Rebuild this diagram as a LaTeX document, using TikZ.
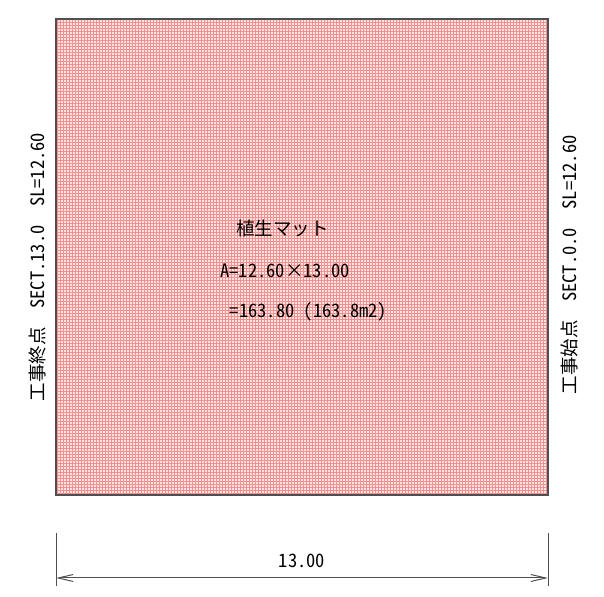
\documentclass[tikz,border=0pt]{standalone}
\usepackage{fontspec}
\setmainfont{Noto Sans CJK JP}
\newfontfamily\jp{Noto Sans CJK JP}
\newfontfamily\hw{Noto Sans CJK JP}[RawFeature=+hwid]
\usetikzlibrary{arrows.meta}
\definecolor{matbg}{HTML}{FFE4E4}
\definecolor{matline}{HTML}{F29090}
\definecolor{edge}{HTML}{505050}
\tikzset{
  lbl/.style={inner sep=0pt, font=\fontsize{18.5bp}{20bp}\selectfont\hw},
  dimline/.style={draw=edge, line width=1bp},
  border/.style={draw=edge, line width=1.5bp},
}
\begin{document}
\begin{tikzpicture}[x=1bp,y=1bp]
\useasboundingbox (0,0) rectangle (604,597);
% mat area
\fill[matbg] (56,102) rectangle (548,578);
\begin{scope}
\clip (56,102) rectangle (548,578);
\foreach \i in {57.5,60.5,...,548} \draw[matline, line width=0.75bp] (\i,102) -- (\i,578);
\foreach \j in {103.5,106.5,...,578} \draw[matline, line width=0.75bp] (56,\j) -- (548,\j);
\end{scope}
\draw[border] (56,102) rectangle (548,578);
% texts
\node[lbl] (t1) at (282.5,369) {\jp 植生マット};
\node[lbl] (t2) at (285,326) {A=12.60{\jp ×}13.00};
\node[lbl] (t3) at (308.5,285) {=163.80 (163.8m2)};
\node[lbl, rotate=90] (lt) at (37.5,330) {{\jp 工事終点　}SECT.13.0{\jp 　}SL=12.60};
\node[lbl, rotate=90] (rt) at (569.5,332) {{\jp 工事始点　}SECT.0.0{\jp 　}SL=12.60};
% dimension
\coordinate (e1a) at (56,64); \coordinate (e1b) at (56,11);
\coordinate (e2a) at (548,64); \coordinate (e2b) at (548,11);
\coordinate (d1) at (56,19); \coordinate (d2) at (548,19);
\draw[dimline] (e1a) -- (e1b);
\draw[dimline] (e2a) -- (e2b);
\draw[dimline, {Straight Barb[length=15bp,width=7bp]}-{Straight Barb[length=15bp,width=7bp]}] (d1) -- (d2);
\node[lbl] (dim) at (302,36) {13.00};
\end{tikzpicture}
\end{document}
